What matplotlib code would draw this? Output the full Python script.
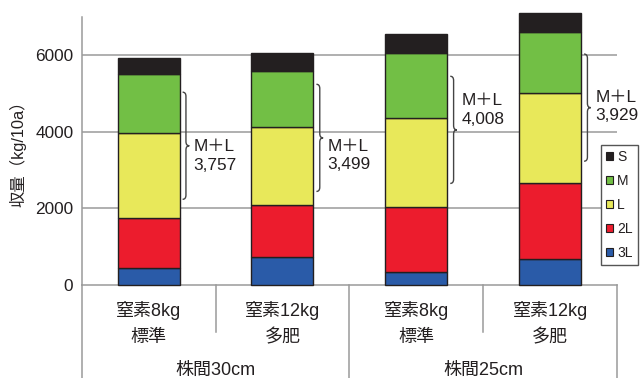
import numpy as np
import matplotlib
matplotlib.use("Agg")
import matplotlib.pyplot as plt
from matplotlib.patches import Patch, PathPatch
from matplotlib.path import Path
from matplotlib.lines import Line2D
import matplotlib.transforms as mtransforms

plt.rcParams['font.family'] = ['Liberation Sans', 'Noto Sans CJK JP']

# yield by size class (kg/10a), bottom to top
fert = ['窒素8kg', '窒素12kg', '窒素8kg', '窒素12kg']
level = ['標準', '多肥', '標準', '多肥']
spacing = ['株間30cm', '株間25cm']
grades = ['3L', '2L', 'L', 'M', 'S']
y3L = [440, 723, 350, 670]
y2L = [1320, 1372, 1700, 2000]
yL = [2210, 2034, 2320, 2340]
yM = [1547, 1465, 1688, 1589]
yS = [423, 460, 500, 500]
ml_label = ['3,757', '3,499', '4,008', '3,929']

colors = {'3L': '#2a5ba8', '2L': '#ec1c2d', 'L': '#e8e85a', 'M': '#72bf45', 'S': '#231f20'}
edge = '#231f20'
grid_c = '#9a9a9a'
txt_c = '#231f20'

# vertical position of the M+L notes
note_y = [3370, 3380, 4570, 4660]

fig = plt.figure(figsize=(6.4, 3.78), dpi=100)
ax = fig.add_axes([81.7 / 640, 1 - 285 / 378, (617 - 81.7) / 640, (285 - 17.1) / 378])

x = np.arange(len(fert))
bw = 0.464
series = [y3L, y2L, yL, yM, yS]
bottom = np.zeros(len(x))
for g, vals in zip(grades, series):
    ax.bar(x, vals, bw, bottom=bottom, color=colors[g], edgecolor=edge,
           linewidth=1.0, zorder=3, clip_on=False)
    bottom += np.array(vals)

ax.set_xlim(-0.5, 3.5)
ax.set_ylim(0, 7000)
ax.set_yticks([0, 2000, 4000, 6000])
ax.set_yticklabels(['0', '2000', '4000', '6000'], fontsize=12.4, color=txt_c)
ax.tick_params(axis='y', length=0, pad=6)
ax.set_xticks([])
for g in [2000, 4000, 6000]:
    ax.axhline(g, color=grid_c, lw=1.1, zorder=1)
for s in ['top', 'right']:
    ax.spines[s].set_visible(False)
ax.spines['left'].set_color(grid_c)
ax.spines['bottom'].set_color(grid_c)
ax.spines['left'].set_linewidth(1.1)
ax.spines['bottom'].set_linewidth(1.1)


def brace(ax, x0, w, y0, y1, r=110):
    ym = (y0 + y1) / 2
    xm = x0 + w / 2
    verts = [(x0, y1), (xm, y1), (xm, y1 - r), (xm, ym + r), (xm, ym), (x0 + w, ym),
             (xm, ym), (xm, ym - r), (xm, y0 + r), (xm, y0), (x0, y0)]
    codes = [Path.MOVETO, Path.CURVE3, Path.CURVE3, Path.LINETO, Path.CURVE3, Path.CURVE3,
             Path.CURVE3, Path.CURVE3, Path.LINETO, Path.CURVE3, Path.CURVE3]
    ax.add_patch(PathPatch(Path(verts, codes), fill=False, edgecolor='#444444',
                           lw=1.0, zorder=4, clip_on=False))


for i in range(len(x)):
    lo = y3L[i] + y2L[i]
    hi = lo + yL[i] + yM[i]
    mid = (lo + hi) / 2
    edge_x = x[i] + bw / 2
    brace(ax, edge_x + 0.022, 0.05, mid - 1400, mid + 1400)
    ax.text(edge_x + 0.105, note_y[i], 'M＋L\n' + ml_label[i], fontsize=12.4,
            color=txt_c, ha='left', va='center', linespacing=1.3, zorder=5)

# category labels and separators under the axis
trans = mtransforms.blended_transform_factory(ax.transData, fig.transFigure)
for i in range(len(x)):
    fig.text(x[i], 1 - 310.5 / 378, fert[i], transform=trans, fontsize=13, color=txt_c,
             ha='center', va='center')
    fig.text(x[i], 1 - 337.5 / 378, level[i], transform=trans, fontsize=13, color=txt_c,
             ha='center', va='center')
for j, name in enumerate(spacing):
    fig.text(2 * j + 0.5, 1 - 370 / 378, name, transform=trans, fontsize=13,
             color=txt_c, ha='center', va='center')

for xs, ybot in [(-0.5, 0), (0.5, 1 - 331.7 / 378), (1.5, 0), (2.5, 1 - 331.7 / 378), (3.5, 0)]:
    fig.add_artist(Line2D([xs, xs], [1 - 285 / 378, ybot], transform=trans,
                          color=grid_c, lw=1.1))

fig.text(18.3 / 640, 1 - 150 / 378, '収量（kg/10a）', rotation=90, fontsize=11.8,
         color=txt_c, ha='center', va='center')

handles = [Patch(facecolor=colors[g], edgecolor=edge, lw=0.8) for g in grades[::-1]]
leg = fig.legend(handles, grades[::-1], loc='upper left',
                 bbox_to_anchor=(600.7 / 640, 1 - 145 / 378), fontsize=10,
                 handlelength=0.5, handleheight=0.5, handletextpad=0.35,
                 labelspacing=0.72, borderpad=0.35, borderaxespad=0,
                 fancybox=False, framealpha=1, edgecolor='#555555')
leg.get_frame().set_linewidth(1.0)
for t in leg.get_texts():
    t.set_color(txt_c)

fig.savefig('out.png', dpi=100)
